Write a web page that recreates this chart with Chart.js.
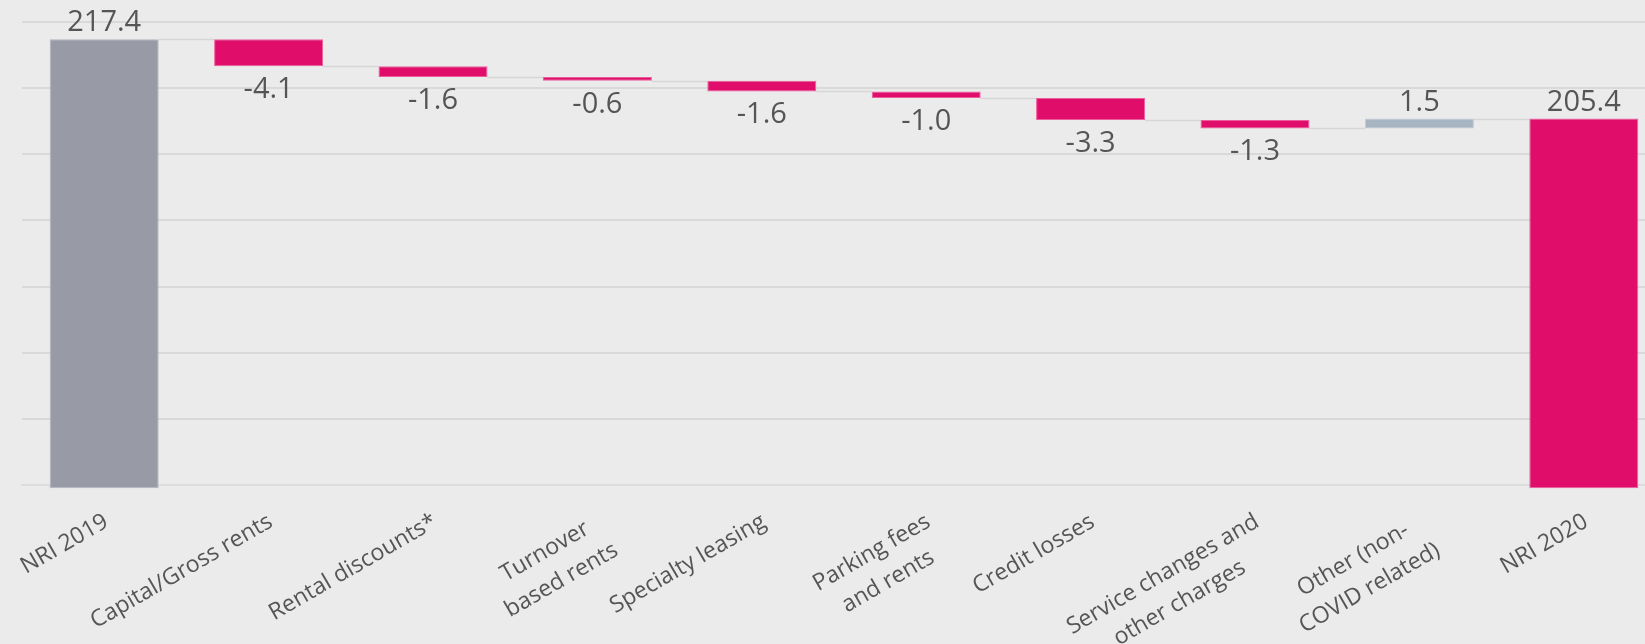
<!DOCTYPE html>
<html>
<head>
<meta charset="utf-8">
<title>NRI 2019 to NRI 2020</title>
<script src="https://cdn.jsdelivr.net/npm/chart.js@4.4.1/dist/chart.umd.min.js"></script>
<style>
  html, body { margin: 0; padding: 0; background: #ebebeb; overflow: hidden; }
  #wrap { width: 1666px; height: 644px; }
</style>
</head>
<body>
<div id="wrap"><canvas id="bridge" width="1666" height="644"></canvas></div>
<script>
"use strict";

// DATA
const categories = [
  "NRI 2019",
  "Capital/Gross rents",
  "Rental discounts*",
  ["Turnover", "based rents"],
  "Specialty leasing",
  ["Parking fees", "and rents"],
  "Credit losses",
  ["Service changes and", "other charges"],
  ["Other (non-", "COVID related)"],
  "NRI 2020",
];
const changes = [217.4, -4.1, -1.6, -0.6, -1.6, -1.0, -3.3, -1.3, 1.5, 205.4];
const barKinds = ["start", "down", "down", "down", "down", "down", "down", "down", "up", "end"];
const yTicks = [150, 160, 170, 180, 190, 200, 210, 220];

const kindColors = { start: "#989aa6", down: "#e00d6b", up: "#a7b4c1", end: "#e00d6b" };
const kindBorders = { start: "#b4b5be", down: "#ec5e9b", up: "#c2ccd5", end: "#ec5e9b" };
const textColor = "#555555";

// total bars start a hair under the axis, like the original export
const barFloor = yTicks[0] - 0.5;

// running totals -> floating bars
let running = 0;
const levels = [];
const floating = changes.map((v, i) => {
  if (barKinds[i] === "start" || barKinds[i] === "end") {
    running = v;
    levels.push(running);
    return [barFloor, v];
  }
  const from = running;
  running = Math.round((running + v) * 10) / 10;
  levels.push(running);
  return [from, running];
});

// connector lines between bars
const connectors = {
  id: "connectors",
  beforeDatasetsDraw(chart) {
    const ctx = chart.ctx;
    const bars = chart.getDatasetMeta(0).data;
    const y = chart.scales.y;
    ctx.save();
    ctx.strokeStyle = "#d6d6d6";
    ctx.lineWidth = 1.5;
    for (let i = 0; i < bars.length - 1; i++) {
      const py = Math.round(y.getPixelForValue(levels[i])) + 0.5;
      ctx.beginPath();
      ctx.moveTo(bars[i].x + bars[i].width / 2, py);
      ctx.lineTo(bars[i + 1].x - bars[i + 1].width / 2, py);
      ctx.stroke();
    }
    ctx.restore();
  },
};

// value labels above / below the bars
const valueLabels = {
  id: "valueLabels",
  afterDatasetsDraw(chart) {
    const ctx = chart.ctx;
    const bars = chart.getDatasetMeta(0).data;
    ctx.save();
    ctx.font = "29px 'Open Sans'";
    ctx.fillStyle = textColor;
    ctx.textAlign = "center";
    ctx.textBaseline = "alphabetic";
    bars.forEach((bar, i) => {
      const v = changes[i];
      const top = Math.min(bar.y, bar.base);
      const bottom = Math.max(bar.y, bar.base);
      if (v < 0) {
        ctx.fillText(v.toFixed(1), bar.x, bottom + 32);
      } else {
        ctx.fillText(v.toFixed(1), bar.x, top - 8);
      }
    });
    ctx.restore();
  },
};

// rotated, centred category labels
const slantLabels = {
  id: "slantLabels",
  afterDraw(chart) {
    const ctx = chart.ctx;
    const x = chart.scales.x;
    const angle = (-30 * Math.PI) / 180;
    const lineHeight = 33;
    ctx.save();
    ctx.font = "23px 'Open Sans'";
    ctx.fillStyle = textColor;
    ctx.textAlign = "center";
    ctx.textBaseline = "alphabetic";
    categories.forEach((label, i) => {
      const lines = Array.isArray(label) ? label : [label];
      const w = Math.max(...lines.map((l) => ctx.measureText(l).width));
      ctx.save();
      ctx.translate(x.getPixelForValue(i) - 3, 511);
      ctx.rotate(angle);
      lines.forEach((l, k) => {
        ctx.fillText(l, -w / 2, 17 + k * lineHeight);
      });
      ctx.restore();
    });
    ctx.restore();
  },
};

const ctx = document.getElementById("bridge").getContext("2d");
const bridgeChart = new Chart(ctx, {
  type: "bar",
  data: {
    labels: categories,
    datasets: [
      {
        data: floating,
        backgroundColor: barKinds.map((k) => kindColors[k]),
        borderColor: barKinds.map((k) => kindBorders[k]),
        borderWidth: 1,
        borderSkipped: false,
        categoryPercentage: 1,
        barPercentage: 0.663,
        clip: 8,
      },
    ],
  },
  options: {
    responsive: false,
    animation: false,
    layout: { padding: { left: 22, right: 0, top: 22, bottom: 151 } },
    plugins: {
      legend: { display: false },
      tooltip: { enabled: false },
    },
    scales: {
      x: {
        z: 1,
        ticks: { display: false },
        grid: { display: false },
        border: { display: true, color: "#dcdcdc", width: 2 },
      },
      y: {
        min: yTicks[0],
        max: yTicks[yTicks.length - 1],
        afterBuildTicks: (axis) => {
          axis.ticks = yTicks.map((v) => ({ value: v }));
        },
        ticks: { display: false },
        grid: { color: "#d9d9d9", lineWidth: 2, drawTicks: false },
        border: { display: false },
      },
    },
  },
  plugins: [connectors, valueLabels, slantLabels],
});
</script>
</body>
</html>
